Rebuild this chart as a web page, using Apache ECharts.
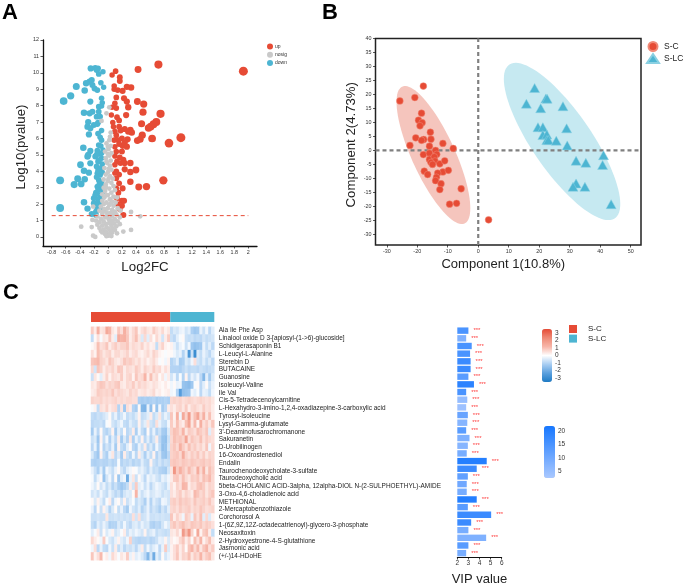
<!DOCTYPE html>
<html><head><meta charset="utf-8">
<style>html,body{margin:0;padding:0;background:#fff}#c{width:685px;height:587px}</style>
<script src="https://cdn.jsdelivr.net/npm/echarts@6/dist/echarts.min.js"></script>
</head><body><div id="c"></div>
<script>
const volcanoUp=[[1.93,10.1],[0.72,10.5],[0.43,10.2],[0.11,10.1],[0.06,9.87],[0.17,9.73],[0.17,9.5],[0.09,9.2],[0.33,9.1],[0.27,9.15],[0.21,8.9],[0.14,8.95],[0.09,9],[0.12,8.5],[0.23,8.45],[0.42,8.25],[0.51,8.1],[0.27,8.25],[0.1,8.15],[0.29,7.9],[0.12,7.85],[0.06,7.9],[0.5,7.6],[0.75,7.5],[0.26,7.43],[0.05,7.43],[0.13,7.3],[0.16,7.1],[0.48,6.9],[0.69,7],[0.65,6.87],[0.61,6.72],[0.58,6.64],[0.07,6.97],[0.08,6.72],[0.16,6.72],[0.24,6.58],[0.32,6.52],[0.29,6.42],[0.1,6.42],[0.18,6.48],[0.34,6.36],[0.12,6.2],[0.49,6.2],[1.04,6.05],[0.63,6],[0.87,5.72],[0.42,5.87],[0.46,5.95],[0.28,5.95],[0.2,6],[0.15,5.9],[0.09,5.9],[0.24,5.75],[0.21,5.55],[0.27,5.5],[0.1,5.5],[0.16,5.66],[0.12,5.2],[0.2,5.2],[0.1,4.93],[0.17,4.85],[0.22,4.7],[0.13,4.6],[0.18,4.5],[0.24,4.5],[0.32,4.5],[0.1,4.4],[0.24,4.12],[0.4,4.08],[0.32,3.96],[0.12,4],[0.16,3.8],[0.1,3.9],[0.12,3.57],[0.79,3.45],[0.32,3.37],[0.16,3.27],[0.44,3.05],[0.55,3.07],[0.21,2.96],[0.12,2.96],[0.15,2.7],[0.13,2.36],[0.2,2.2],[0.23,2.2],[0.2,1.9],[0.17,1.7],[0.22,1.34],[0.14,2.0]];
const volcanoDown=[[-0.245,10.27],[-0.18,10.3],[-0.14,10.27],[-0.16,10.17],[-0.07,10.07],[-0.13,9.93],[-0.23,9.56],[-0.26,9.46],[-0.31,9.36],[-0.1,9.4],[-0.22,9.26],[-0.45,9.16],[-0.06,9.12],[-0.19,9.05],[-0.33,8.93],[-0.15,8.95],[-0.53,8.6],[-0.63,8.28],[-0.09,8.45],[-0.25,8.25],[-0.08,8.18],[-0.13,7.94],[-0.09,7.98],[-0.34,7.57],[-0.26,7.53],[-0.22,7.63],[-0.13,7.63],[-0.16,7.33],[-0.11,7.33],[-0.28,7],[-0.14,6.97],[-0.2,6.82],[-0.29,6.72],[-0.25,6.62],[-0.15,6.88],[-0.09,6.48],[-0.27,6.25],[-0.14,6.3],[-0.11,6.07],[-0.09,5.9],[-0.35,5.44],[-0.1,5.54],[-0.15,5.26],[-0.25,5.24],[-0.07,5.3],[-0.28,5],[-0.11,5.06],[-0.18,4.9],[-0.09,4.8],[-0.29,4.9],[-0.25,4.49],[-0.39,4.4],[-0.14,4.6],[-0.34,4.04],[-0.27,3.92],[-0.15,3.88],[-0.11,3.78],[-0.68,3.45],[-0.43,3.55],[-0.33,3.51],[-0.48,3.19],[-0.38,3.23],[-0.13,3.47],[-0.09,3.37],[-0.15,3.07],[-0.1,2.96],[-0.17,2.7],[-0.11,2.56],[-0.2,2.36],[-0.14,2.31],[-0.34,2.11],[-0.2,2.05],[-0.09,2.05],[-0.68,1.77],[-0.29,1.73],[-0.15,1.75],[-0.17,1.54],[-0.11,1.75],[-0.23,1.4],[-0.17,1.34],[-0.13,5.6],[-0.09,5.1],[-0.16,5.02],[-0.12,4.7],[-0.08,4.45],[-0.16,4.3],[-0.1,4.2],[-0.14,4.05],[-0.08,3.95],[-0.16,3.65],[-0.12,3.25],[-0.08,3.12],[-0.14,2.85],[-0.07,2.75],[-0.18,2.55],[-0.08,2.4],[-0.13,2.1],[-0.17,1.95]];
const volcanoNosig=[[-0.38,0.63],[-0.22,1.04],[-0.23,0.6],[-0.21,0.08],[-0.18,0],[0.33,1.52],[0.46,1.26],[0.33,0.43],[0.22,0.33],[0.13,0.22],[-0.21,1.85],[-0.02,7.53],[0.02,7.9],[-0.09,7.07],[0.04,6.36],[0.03,6.1],[0.02,5.9],[-0.02,5.7],[0.04,5.55],[0.01,5.35],[-0.04,5.2],[0.05,5.1],[0.02,4.95],[-0.03,4.8],[0.04,4.65],[-0.01,4.5],[0.03,4.35],[-0.05,4.2],[0.05,4.1],[0,3.95],[-0.03,3.8],[0.03,3.7],[0.07,3.55],[-0.06,3.5],[0,3.4],[0.05,3.3],[-0.03,3.2],[0.08,3.1],[-0.06,3],[0.02,2.95],[0.1,2.85],[-0.04,2.8],[0.05,2.7],[-0.08,2.6],[0,2.55],[0.08,2.45],[-0.05,2.4],[0.03,2.3],[0.13,2.4],[-0.08,2.2],[0.06,2.15],[-0.02,2.1],[0.11,2.1],[-0.06,2],[0.02,1.95],[0.08,1.9],[-0.1,1.85],[0.14,1.75],[0,1.75],[-0.05,1.7],[0.06,1.65],[-0.12,1.6],[0.18,1.6],[0.1,1.55],[-0.02,1.5],[0.03,1.45],[-0.08,1.4],[0.12,1.38],[-0.15,1.25],[0.06,1.25],[-0.04,1.2],[0.17,1.2],[0.01,1.1],[-0.1,1.1],[0.1,1.08],[-0.17,1],[0.05,1],[-0.06,0.95],[0.14,0.95],[-0.12,0.9],[0.02,0.85],[0.09,0.82],[-0.03,0.8],[0.17,0.78],[-0.15,0.75],[-0.08,0.7],[0.05,0.68],[0.12,0.65],[-0.02,0.6],[-0.12,0.55],[0.07,0.52],[0.01,0.5],[-0.06,0.45],[0.1,0.42],[-0.1,0.38],[0.04,0.36],[-0.03,0.32],[0.06,0.28],[-0.08,0.28],[0,0.22],[0.03,0.15],[-0.04,0.18],[0.01,0.08],[0.05,0.06],[-0.02,0.05],[0.02,1.05],[-0.02,2.55],[0.04,2.05],[-0.03,3.05],[0.01,3.55],[0.01,4.15],[-0.02,4.6],[0,5.05],[0,5.5],[0.06,0.9],[-0.01,1.3],[0.07,1.4],[-0.07,1.55]];
const pcaSC=[[-18,23],[-25.7,17.7],[-20.8,18.9],[-18.6,13.3],[-19.6,10.8],[-18.4,9.9],[-19.1,8.8],[-15.7,6.5],[-20.5,4.5],[-17.9,3.9],[-18.6,3.6],[-15.5,4],[-11.6,2.5],[-22.4,1.8],[-16,1.5],[-8.2,0.7],[-14,0],[-18,-1.5],[-16,-1],[-13.6,-1.4],[-16,-3.2],[-14.4,-2.3],[-14.2,-3.8],[-15.5,-4.3],[-15,-5],[-12.6,-4.8],[-11,-3.7],[-17.7,-7.4],[-16.6,-8.6],[-11.6,-7.7],[-9.8,-7.1],[-13.3,-8.1],[-13.7,-9.6],[-14,-10.8],[-12.2,-11.9],[-12.6,-14],[-5.6,-13.7],[-9.4,-19.2],[-7.1,-18.9],[3.4,-24.8]];
const pcaSLC=[[18.5,22.3],[15.8,16.7],[22.2,18.6],[22.6,18.5],[20.5,15.1],[27.8,15.8],[19.6,8.3],[21.2,8.3],[29,7.9],[21.2,5.5],[22.5,5.7],[22.5,3.7],[23,3.7],[25.6,3.5],[29.2,1.8],[41.1,-1.7],[32.1,-3.7],[35.3,-4.4],[40.8,-5.2],[32.1,-11.8],[31.1,-13],[35,-13],[43.6,-19.2]];
// centre x, centre y, half extent x, half extent y, correlation
const ellipseSC=[[-14.7,-1.65,12.1,24.65,-0.77]];
const ellipseSLC=[[27.5,3.2,19.1,28.1,-0.796]];
const thresholdLine=[[-0.8,1.3],[2,1.3]];
const pcaZeroV=[[0,-33.8],[0,40]];
const pcaZeroH=[[-33.7,0],[53.4,0]];
const volcanoXTicks=[-0.8,-0.6,-0.4,-0.2,0,0.2,0.4,0.6,0.8,1,1.2,1.4,1.6,1.8,2];
const volcanoYTicks=[0,1,2,3,4,5,6,7,8,9,10,11,12];
const pcaXTicks=[-30,-20,-10,0,10,20,30,40,50];
const pcaYTicks=[-30,-25,-20,-15,-10,-5,0,5,10,15,20,25,30,35,40];
const heatTicks=[-3,-2,-1,0,1,2,3];
const vipColorTicks=[5,10,15,20];
const vipTicks=[2,3,4,5,6];
const groupCounts=[27,15];
const metabolites=["Ala Ile Phe Asp","Linalool oxide D 3-[apiosyl-(1->6)-glucoside]","Schidigerasaponin B1","L-Leucyl-L-Alanine","Sterebin D","BUTACAINE","Guanosine","Isoleucyl-Valine","Ile Val","Cis-5-Tetradecenoylcarnitine","L-Hexahydro-3-imino-1,2,4-oxadiazepine-3-carboxylic acid","Tyrosyl-Isoleucine","Lysyl-Gamma-glutamate","3'-Deaminofusarochromanone","Sakuranetin","D-Urobilinogen","16-Oxoandrostenediol","Endalin","Taurochenodeoxycholate-3-sulfate","Taurodeoxycholic acid","5beta-CHOLANIC ACID-3alpha, 12alpha-DIOL N-(2-SULPHOETHYL)-AMIDE","3-Oxo-4,6-choladienoic acid","METHIONAL","2-Mercaptobenzothiazole","Corchorosol A","1-(6Z,9Z,12Z-octadecatrienoyl)-glycero-3-phosphate","Neosaxitoxin","2-Hydroxyestrone-4-S-glutathione","Jasmonic acid","(+/-)14-HDoHE"];
const vipValues=[3.0,2.8,3.3,3.15,3.2,3.2,3.0,3.5,2.8,2.9,2.8,2.95,2.9,2.8,3.1,2.95,2.85,4.65,3.75,2.95,2.85,2.85,3.75,2.95,5.05,3.25,3.0,4.6,3.0,2.8];
const vipShade=[15,8,15,15,17,17,13,19,15,5,4,11,7,13,8,7,9,20,17,12,10,9,20,13,17,17,9,8,13,9];
const heatRows=[
[.8,.3,1.3,.4,.5,1.5,1.2,.4,.2,.9,.5,1.3,.8,.3,.6,.9,.2,.5,.7,.4,.3,.8,.5,.3,.6,.2,.4,-.8,-.5,-.6,-.3,-.2,-.6,-.4,-1.1,-1.3,-1.2,-.3,-.7,-.2,-.9,-.4],
[-.8,.1,.5,-.1,.4,.3,.9,.3,-.4,1.4,1.2,1.3,.9,.3,.6,1,.4,-.5,.6,-.4,.5,.1,.6,.3,-.6,.3,.8,-.7,-.9,-.4,-.1,.1,-.7,-.8,-.7,-.9,-.8,-.9,-.6,-.8,-.7,-.6],
[.1,.3,1,.5,.6,.9,.3,.6,.8,.5,.7,.7,.9,.4,.6,.5,.4,.7,.3,.5,.2,.3,-.8,.4,.7,.2,.1,.2,-.3,-.7,-.3,-.1,-.7,-.2,-1.3,-1.5,-1.4,-1.3,-.3,-.8,-.4,-.9],
[.5,.2,1,.7,.4,.6,.7,.3,.6,.6,.4,.5,.7,.3,.5,.6,.3,.2,.4,.6,.3,.7,.5,.2,.1,-.1,.1,.1,-.2,-.5,-.3,-1,-.4,-2.6,-.7,-2.9,-.5,-.8,-.3,-.6,-.9,-.4],
[.9,1,1.1,.7,.6,.4,.9,.7,.4,.3,.5,.9,.7,.8,.6,.4,.6,.3,.5,.2,.4,.6,.3,-.1,.1,-.2,.2,-1,-.8,-.4,-1.2,-1.1,-.5,-.7,-.2,.5,-.6,-.8,-.4,-.8,-.5,-.9],
[.6,-.6,.9,.7,.3,.6,.5,.7,.4,.9,.8,.3,.6,.5,.4,.8,.6,.3,.7,.5,.4,.8,.5,.6,.2,.5,.3,-1,-1,-1,-1.1,-.9,-.7,-.9,-.8,-.8,-.9,-.7,-.8,-.9,-.8,-.7],
[-.7,.4,.1,-.4,.3,.7,.2,.6,.5,.4,.8,.3,.6,.7,.2,.9,.5,.6,1.2,.3,1,.4,.6,.1,.4,-.2,.3,-.6,-.2,-.9,-.1,-1,.2,-.9,-.3,-.6,-.2,-.9,-1.7,-.4,-1.2,-.5],
[.4,.3,.7,.9,.8,.5,.7,.6,.8,.9,.4,.3,.6,.5,.8,.4,.7,.5,.6,.4,.3,.5,.4,.2,.1,.3,.1,-.2,.1,-.3,-.2,-1.4,-1.5,-1.6,-1.3,-.1,.1,-.9,-.4,.1,-.7,-.3],
[.3,.4,.8,.7,.6,.7,.6,.9,.5,.7,.6,.5,.4,.7,.5,.6,.3,.4,.5,.3,.4,.6,.2,.3,.1,.2,.3,-.2,-.1,-1,-2.4,-1.5,-1.4,-1.3,-.2,-.4,-.1,-.9,-.3,-.4,-.8,-.2],
[.7,.6,.6,.7,.5,.6,.5,.6,.7,.5,.6,.5,.6,.6,.5,.5,-1.1,-1.2,-1.1,-1.2,-1.1,-1,-1.2,-1.1,-1.1,-1,-1.1,.6,.7,.6,.7,.5,.6,.7,.6,.5,.6,.7,.6,.5,.6,.4],
[-.1,.2,-.8,.5,.4,.7,.3,.5,.6,-1,.4,-1.3,.5,.3,-1,-1.2,.1,-1.7,-1.8,-.3,-1.5,.1,-1.4,-.2,-1.2,-.9,.3,.5,.3,.6,.7,.4,.8,.3,.6,.7,.5,.4,.8,.5,.6,.3],
[-.8,-.9,-.7,-.8,-.6,-.4,.1,-.7,-.3,-.9,-.6,-.2,-.8,-.6,-.8,-.5,.2,-.8,-.7,-.4,.3,-.8,-.5,.4,-.7,-.3,-.6,.9,.2,1.3,-.2,1.5,.7,1.9,.5,1,1.6,.6,1.3,.4,1,.3],
[-.9,-.8,-.8,-.7,-.9,-.1,.1,-.6,-.8,-.5,-.2,-.8,-.9,-.4,-.7,-.8,.2,-.7,-.4,.4,-.6,-.8,.5,-.3,-.7,-.8,-.2,.8,.3,1,.5,.3,1,1.6,.4,1.1,.2,1.3,.5,.8,.4,.9],
[-1.2,-.3,-.9,.1,-.8,-1,-.7,.2,-1.2,-.4,-.8,.1,-.9,-.7,.3,-1.1,-.2,-.8,-1.1,.1,-.9,-.3,-1,-.7,-1.2,-1.3,-.5,.7,1,.9,.6,1.2,.4,.8,.7,.5,1,.8,.6,.9,-.4,.5],
[-.7,-.5,-1.3,.2,-.8,-.2,-1.1,-.4,-.9,.3,-1.2,-.5,-1,.4,-1.1,-.3,-.8,.2,-.9,-.4,-1,-.6,.3,-.9,-1.4,-1.5,-.7,.6,1,.8,.9,.7,1.6,.5,.9,.7,.6,1,.5,.8,.6,.5],
[-.9,-.3,-1.2,.1,-1,-.6,-.9,-.3,-1.2,.2,-.8,-1,-.4,.1,-.9,-1.1,-.3,-.7,.3,-.9,-.5,-1,-.2,-.8,-1.5,-1.4,-.6,.7,.9,.6,1.3,.8,.5,1,.6,.8,.5,.7,.4,.9,-.2,.6],
[-.5,-1,-1.3,.2,-.8,-1.1,-.3,.4,-.9,-.5,-1.2,.3,-.7,-1,-.2,-.9,.3,-.5,-1.1,-.4,-.8,.2,-1,-.6,-1.3,-1.4,-.9,.7,.8,.9,.6,1.4,.7,.5,.8,.6,.9,.5,.8,.4,.7,.6],
[-1,-1.1,-1,-.9,-1,-1,-.8,-1,-.9,-.1,-1,-.8,-.9,-.7,-1,-.8,-.9,-.4,-.8,-.9,.2,-.7,-.9,-.6,-.9,-.7,-.8,.8,.9,.8,.7,.9,.8,.7,.9,.8,.7,.8,.9,.7,.8,.6],
[-.3,-.7,-1.1,-.4,-1.2,-.2,-.5,-.8,-.3,.1,-.6,-.9,-.4,-.2,.1,-.1,-.5,-.3,-.6,-.9,-.4,-.8,-.7,-1,-1.1,-1.2,-.6,.4,2,.8,1.3,.9,.6,1.1,.7,.5,1.4,.6,1.3,.4,1,.7],
[-.1,-.8,-.3,.1,-1.4,-.6,-.2,-.9,.1,-1.3,-.4,-.2,-2,-.3,.4,-.7,.1,-.4,-.9,-.2,-.5,-.3,-.6,-.8,-.3,-.5,-.2,.3,.8,.9,.5,1,.6,.4,.8,.7,.9,.5,1,.8,1.1,.6],
[-.2,-.5,.1,-.6,-.3,-.8,-.5,-1,-.7,-1.1,-1.3,-1.1,-.8,.3,-.6,.8,-.4,-.2,-.7,-.3,-.9,-.5,-.2,-.4,-.6,-.8,-.3,.5,.2,.7,.5,1.2,1.1,.3,.6,.5,.9,1,.8,.4,.7,.6],
[-.6,-.4,-.7,-.2,-.6,-.8,-.3,-.6,-.9,-.7,-1.1,-.6,-.4,-.5,.1,1.2,-.3,-.7,-.4,-.2,-.6,-.5,-.3,-.4,-.7,-.5,-.6,.5,.3,.6,.8,.4,.7,.5,.3,1.1,.9,.6,.8,.4,.7,.9],
[.1,-.5,.2,-.4,-.8,-.1,.3,-.9,-.2,.1,-.6,.2,-.7,-.4,-.1,-.8,-.5,-.7,-1.1,-.3,-1,-.4,-.7,-.9,-.2,-.3,-.6,.7,.8,.6,.9,.7,.8,.7,.5,.9,.6,.7,.8,.6,.9,.5],
[-.3,-.9,.1,-.7,.2,-.4,-1,-.5,.1,-.8,-.3,-.9,-1.2,-.2,-.6,-.8,-.4,-1,-.7,-.3,-.9,-.6,-.8,-1.1,-.6,-.9,-.4,.6,.7,.5,.8,.6,.7,.8,.5,.7,.6,.9,.7,.5,.6,.7],
[-.7,-.7,-.6,-.7,-.7,.4,-.7,-.7,-.6,-.7,-.6,-.7,-.6,-.7,.5,-.6,.5,-.7,-.6,-.3,-.7,-.7,-.6,-.7,-.6,-.7,-.7,.9,.3,.7,.4,-.2,.8,.6,-.3,.9,.5,1,-.4,.6,-.5,.2],
[-.8,-1,-.4,-.7,-.3,-.6,-1.1,-1,-1,-.5,-.8,-.2,-.7,-.9,-.5,-.4,-.7,-.3,-.6,-.5,-1,-1.1,-.9,-1,-.6,-.2,-.5,.7,.9,.6,.8,1,.7,.6,.9,.8,.7,.9,.6,.8,.7,.5],
[-.4,-.1,.3,-.7,.1,-.5,-.2,.2,-.6,-.4,-.1,.3,-.7,-.3,-.5,-.2,-.4,-.6,.2,-.7,-.5,-.3,-.8,-.6,-.7,-.8,-.7,.4,.3,.6,.2,1.9,1,2,.7,.1,1.5,.2,.8,1,.3,-.8],
[.6,.3,.1,-.2,.8,-.1,-.5,-.7,-.3,.2,-.4,-.6,-.2,.7,-.8,-.9,-1,-.9,-.9,-.8,-1,-.9,-.7,-.3,-.4,.2,-.5,.3,.1,.2,.6,.9,.3,.7,.1,1,.5,1.2,.2,.6,1,.3],
[-.2,.5,-.9,-.3,-.8,-.9,-.2,-.7,.3,-.8,-.4,-.9,-.6,-.7,-.5,-.9,-.4,.3,-.8,-.2,-.7,-.4,-.2,-.9,-.3,.8,-.5,.2,.5,.8,.3,.7,.1,.9,1.2,.6,1.1,.4,.9,1.2,.5,.8],
[.9,.2,.5,1.1,.1,.3,-.2,.6,.3,-.1,.4,.2,.8,-.3,.2,-.4,-.2,-.5,-.9,-1.7,-.6,-2,-.4,-.8,.1,-.6,-.3,.2,.5,.9,.3,.7,.6,1,.4,.8,.6,1.2,.5,.8,1,.4]
];

const FONT='"Liberation Sans", Arial, sans-serif';
const RED='#E64B35', BLUE='#4DB5D2', GREY='#C9C9C9';
const chart=echarts.init(document.getElementById('c'),null,{renderer:'canvas'});
const volcanoSize=v=>Math.min(9,5.2+Math.abs(v[0])*4);
function ellipseItem(color){
  return function(params,api){
    const cx=api.value(0),cy=api.value(1),sx=api.value(2),sy=api.value(3),r=api.value(4);
    const pts=[];
    for(let i=0;i<96;i++){
      const t=i/96*Math.PI*2;
      pts.push(api.coord([cx+sx*Math.cos(t),cy+sy*(r*Math.cos(t)+Math.sqrt(1-r*r)*Math.sin(t))]));
    }
    return {type:'polygon',shape:{points:pts},style:{fill:color}};
  };
}
const tickLabel=(size,extra)=>Object.assign({fontSize:size,color:'#333',fontFamily:FONT},extra||{});
const heatData=[];
heatRows.forEach((row,y)=>row.forEach((v,x)=>heatData.push([x,y,v])));
const colIdx=heatRows[0].map((_,i)=>i);

chart.setOption({
  animation:false,
  backgroundColor:'#fff',
  textStyle:{fontFamily:FONT},
  title:[
    {text:'A',left:2,top:2,padding:0,textStyle:{fontSize:22,fontWeight:'bold',color:'#000',fontFamily:FONT}},
    {text:'B',left:322,top:2,padding:0,textStyle:{fontSize:22,fontWeight:'bold',color:'#000',fontFamily:FONT}},
    {text:'C',left:3,top:282,padding:0,textStyle:{fontSize:22,fontWeight:'bold',color:'#000',fontFamily:FONT}}
  ],
  legend:[
    {data:['up','nosig','down'],orient:'vertical',left:267,top:43.5,padding:0,itemWidth:6,itemHeight:6,itemGap:2.3,icon:'circle',textStyle:{fontSize:5,color:'#333',fontFamily:FONT,padding:[0,0,0,-3]},selectedMode:false},
    {data:['S-C','S-LC'],orient:'vertical',left:646,top:41,padding:0,itemWidth:12,itemHeight:9,itemGap:1,textStyle:{fontSize:8.5,color:'#222',fontFamily:FONT},selectedMode:false},
    {data:[{name:'S-C',icon:'rect'},{name:'S-LC',icon:'rect'}],orient:'vertical',left:569,top:325,padding:0,itemWidth:8,itemHeight:8,itemGap:1.6,itemStyle:{borderWidth:0},textStyle:{fontSize:8,color:'#222',fontFamily:FONT,padding:[0,0,0,6]},selectedMode:false}
  ],
  grid:[
    {left:43,top:40,width:214,height:206},
    {left:375.5,top:38.5,width:265.5,height:206.5,show:true,borderColor:'#222',borderWidth:1.5,backgroundColor:'transparent'},
    {left:91,top:312,width:123.3,height:10},
    {left:91,top:326.8,width:123.3,height:233.4},
    {left:457.3,top:326.8,width:44.4,height:233.8},
    {left:542,top:329,width:10,height:53},
    {left:544,top:426,width:11,height:52}
  ],
  xAxis:[
    {gridIndex:0,type:'value',min:-0.924,max:2.124,splitLine:{show:false},
     axisLine:{show:true,onZero:false,lineStyle:{color:'#111',width:1.3}},
     axisTick:{show:true,length:2.5,customValues:volcanoXTicks,lineStyle:{color:'#111',width:.7}},
     axisLabel:{customValues:volcanoXTicks,margin:4,...tickLabel(5.4)},
     name:'Log2FC',nameLocation:'middle',nameGap:15,nameTextStyle:{fontSize:13.3,color:'#222',verticalAlign:'top',fontFamily:FONT,padding:[0,10,0,0]}},
    {gridIndex:1,type:'value',min:-33.7,max:53.4,splitLine:{show:false},
     axisLine:{show:false,onZero:false},
     axisTick:{show:true,length:2.5,customValues:pcaXTicks,lineStyle:{color:'#111',width:.7}},
     axisLabel:{customValues:pcaXTicks,margin:4,...tickLabel(5.4)},
     name:'Component 1(10.8%)',nameLocation:'middle',nameGap:13,nameTextStyle:{fontSize:13,color:'#222',verticalAlign:'top',fontFamily:FONT,padding:[0,10,0,0]}},
    {gridIndex:2,type:'value',min:0,max:42,show:false},
    {gridIndex:3,type:'category',data:colIdx,show:false},
    {gridIndex:4,type:'value',min:2,max:6,splitLine:{show:false},
     axisLine:{show:true,onZero:false,lineStyle:{color:'#111',width:1}},
     axisTick:{show:true,length:2.5,customValues:vipTicks,lineStyle:{color:'#111',width:.8}},
     axisLabel:{customValues:vipTicks,margin:3,...tickLabel(6.5)},
     name:'VIP value',nameLocation:'middle',nameGap:16,nameTextStyle:{fontSize:13,color:'#222',verticalAlign:'top',fontFamily:FONT}},
    {gridIndex:5,type:'value',min:0,max:1,show:false},
    {gridIndex:6,type:'value',min:0,max:1,show:false}
  ],
  yAxis:[
    {gridIndex:0,type:'value',min:-0.55,max:12,splitLine:{show:false},
     axisLine:{show:true,onZero:false,lineStyle:{color:'#111',width:1.3}},
     axisTick:{show:true,length:2.5,customValues:volcanoYTicks,lineStyle:{color:'#111',width:.7}},
     axisLabel:{customValues:volcanoYTicks,margin:4,...tickLabel(5.4)},
     name:'Log10(pvalue)',nameLocation:'middle',nameGap:15,nameRotate:90,nameTextStyle:{fontSize:13.3,color:'#222',fontFamily:FONT,padding:[0,8,0,0]}},
    {gridIndex:1,type:'value',min:-33.8,max:40,splitLine:{show:false},
     axisLine:{show:false,onZero:false},
     axisTick:{show:true,length:2.5,customValues:pcaYTicks,lineStyle:{color:'#111',width:.7}},
     axisLabel:{customValues:pcaYTicks,margin:4,...tickLabel(5.4)},
     name:'Component 2(4.73%)',nameLocation:'middle',nameGap:18,nameRotate:90,nameTextStyle:{fontSize:13.2,color:'#222',fontFamily:FONT,padding:[0,6,0,0]}},
    {gridIndex:2,type:'category',data:['group'],show:false},
    {gridIndex:3,type:'category',data:metabolites,inverse:true,position:'right',
     axisLine:{show:false},axisTick:{show:false},splitLine:{show:false},
     axisLabel:{interval:0,margin:4.5,fontSize:6.45,color:'#222',fontFamily:FONT}},
    {gridIndex:4,type:'category',data:metabolites,inverse:true,show:false},
    {gridIndex:5,type:'value',min:-3.5,max:3.5,position:'right',splitLine:{show:false},
     axisLine:{show:false},
     axisTick:{show:true,length:1.8,customValues:heatTicks,lineStyle:{color:'#444',width:.6}},
     axisLabel:{customValues:heatTicks,margin:3,...tickLabel(6.5)}},
    {gridIndex:6,type:'value',min:2.4,max:21.9,position:'right',splitLine:{show:false},
     axisLine:{show:false},
     axisTick:{show:true,length:1.8,customValues:vipColorTicks,lineStyle:{color:'#444',width:.6}},
     axisLabel:{customValues:vipColorTicks,margin:3,...tickLabel(6.5)}}
  ],
  visualMap:[
    {type:'continuous',seriesIndex:11,dimension:2,min:-3.5,max:3.5,calculable:false,left:542,top:329,padding:0,itemWidth:10,itemHeight:53,
     inRange:{color:['#1E7BC4','#5A9FDD','#A8CDF2','#FFFFFF','#F7B5A8','#EE8A76','#E64B35']},textStyle:{fontSize:1}},
    {type:'continuous',seriesIndex:12,dimension:2,min:2.4,max:21.9,calculable:false,left:544,top:426,padding:0,itemWidth:11,itemHeight:52,
     inRange:{color:['#A9C8FF','#1677FF']},textStyle:{fontSize:1}}
  ],
  series:[
    {name:'down',type:'scatter',xAxisIndex:0,yAxisIndex:0,data:volcanoDown,symbolSize:volcanoSize,itemStyle:{color:BLUE,opacity:1}},
    {name:'up',type:'scatter',xAxisIndex:0,yAxisIndex:0,data:volcanoUp,symbolSize:volcanoSize,itemStyle:{color:RED,opacity:1}},
    {name:'nosig',type:'scatter',xAxisIndex:0,yAxisIndex:0,data:volcanoNosig,symbolSize:4.8,itemStyle:{color:GREY,opacity:1}},
    {type:'custom',name:'ellipse S-C',xAxisIndex:1,yAxisIndex:1,data:ellipseSC,renderItem:ellipseItem('#F5C5BD'),z:1,encode:{x:0,y:1}},
    {type:'custom',name:'ellipse S-LC',xAxisIndex:1,yAxisIndex:1,data:ellipseSLC,renderItem:ellipseItem('#C6E9F1'),z:1,encode:{x:0,y:1}},
    {name:'zero v',type:'line',xAxisIndex:1,yAxisIndex:1,data:pcaZeroV,showSymbol:false,silent:true,z:2,lineStyle:{color:'#808080',type:[4,3],width:2.2}},
    {name:'S-C',type:'scatter',xAxisIndex:1,yAxisIndex:1,data:pcaSC,symbol:'circle',symbolSize:6.8,z:3,itemStyle:{color:RED,opacity:1,borderColor:'#F08A78',borderWidth:.5}},
    {name:'S-LC',type:'scatter',xAxisIndex:1,yAxisIndex:1,data:pcaSLC,symbol:'triangle',symbolSize:[10,9],z:3,itemStyle:{color:BLUE,opacity:1,borderColor:'#8AD0E2',borderWidth:.5}},
    {name:'S-C',type:'bar',stack:'g',xAxisIndex:2,yAxisIndex:2,data:[groupCounts[0]],barWidth:'100%',itemStyle:{color:RED},legendHoverLink:false},
    {name:'S-LC',type:'bar',stack:'g',xAxisIndex:2,yAxisIndex:2,data:[groupCounts[1]],barWidth:'100%',itemStyle:{color:BLUE},legendHoverLink:false},
    {name:'zero h',type:'line',xAxisIndex:1,yAxisIndex:1,data:pcaZeroH,showSymbol:false,silent:true,z:2,lineStyle:{color:'#808080',type:[4,3],width:2.2}},
    {name:'heat',type:'heatmap',xAxisIndex:3,yAxisIndex:3,data:heatData,progressive:0},
    {name:'VIP',type:'bar',xAxisIndex:4,yAxisIndex:4,barWidth:6.4,
     data:vipValues.map((v,i)=>[v,i,vipShade[i]]),encode:{x:0,y:1},
     label:{show:true,position:'right',distance:5,formatter:'***',fontSize:6,color:'#FF3B3B',fontFamily:FONT}},
    {name:'threshold',type:'line',xAxisIndex:0,yAxisIndex:0,data:thresholdLine,showSymbol:false,silent:true,z:4,lineStyle:{color:RED,type:[4,3],width:1}}
  ]
});
</script></body></html>
